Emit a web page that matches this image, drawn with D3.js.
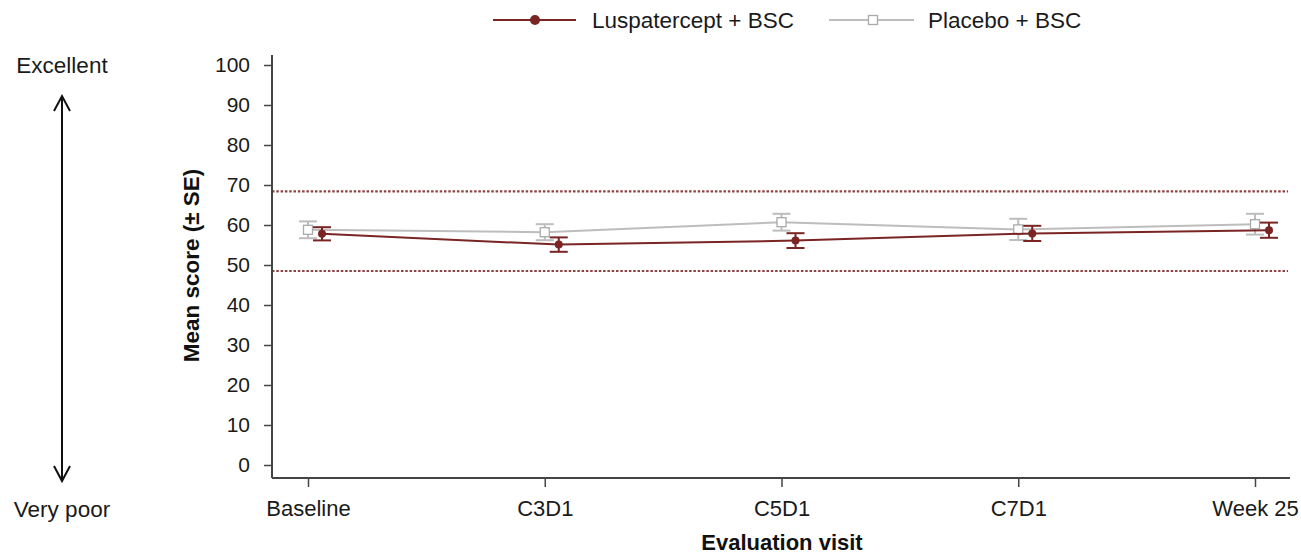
<!DOCTYPE html>
<html><head><meta charset="utf-8">
<script src="https://cdn.jsdelivr.net/npm/d3@7"></script>
<style>body{margin:0;background:#fff}svg{display:block;font-family:"Liberation Sans",Arial,sans-serif}</style>
</head><body><svg id="c" width="1301" height="557"></svg>
<script>
const visits = ["Baseline","C3D1","C5D1","C7D1","Week 25"];
const luspMean = [57.8,55.1,56.1,57.9,58.7];
const luspSE   = [1.65,1.8,1.85,1.9,1.9];
const placMean = [58.8,58.2,60.7,58.9,60.2];
const placSE   = [2.1,2.0,2.1,2.65,2.6];
const refLines = [68.4,48.5];
const yTicks = [0,10,20,30,40,50,60,70,80,90,100];
const seriesNames = ["Luspatercept + BSC","Placebo + BSC"];

const svg = d3.select("#c");
const dark = "#7a2424", gray = "#bdbdbd", axisC = "#444", txt = "#1a1a1a";
const x = d3.scalePoint().domain(visits).range([308,1255]);
const y = d3.scaleLinear().domain([0,100]).range([465,65]);
const X0 = 272, X1 = 1290, YB = 478;

// dotted reference lines
refLines.forEach(v=>{
  svg.append("line").attr("x1",X0).attr("x2",1288).attr("y1",y(v)).attr("y2",y(v))
    .attr("stroke",dark).attr("stroke-width",2.2).attr("stroke-dasharray","2.5,1.8").attr("opacity",0.85);
});

// axes
const yAx = svg.append("g").attr("transform",`translate(${X0},0)`)
  .call(d3.axisLeft(y).tickValues(yTicks).tickSize(8).tickPadding(14));
yAx.select(".domain").attr("d",`M0,${y(100)-10}V${YB}`);
const xAx = svg.append("g").attr("transform",`translate(0,${YB})`)
  .call(d3.axisBottom(x).tickSize(9));
xAx.select(".domain").attr("d",`M${X0},0H${X1}`);
[yAx,xAx].forEach(g=>{
  g.selectAll(".domain").attr("stroke",axisC).attr("stroke-width",2);
  g.selectAll(".tick line").attr("stroke",axisC).attr("stroke-width",1.5);
  g.selectAll("text").attr("fill",txt).attr("font-family","Liberation Sans, Arial, sans-serif");
});
yAx.selectAll("text").attr("font-size",21);
xAx.selectAll("text").attr("font-size",22).attr("y",38).attr("dy","0");

function drawSeries(mean, se, off, color, marker){
  const g = svg.append("g");
  const px = (d,i)=> x(visits[i]) + off;
  g.append("path").datum(mean)
    .attr("d", d3.line().x(px).y(d=>y(d)))
    .attr("fill","none").attr("stroke",color).attr("stroke-width",2);
  mean.forEach((m,i)=>{
    const cx = px(m,i), lo = y(m-se[i]), hi = y(m+se[i]);
    g.append("line").attr("x1",cx).attr("x2",cx).attr("y1",lo).attr("y2",hi).attr("stroke",color).attr("stroke-width",2);
    [lo,hi].forEach(yy=>g.append("line").attr("x1",cx-9).attr("x2",cx+9).attr("y1",yy).attr("y2",yy).attr("stroke",color).attr("stroke-width",2));
    if(marker==="dot") g.append("circle").attr("cx",cx).attr("cy",y(m)).attr("r",4).attr("fill",color);
    else g.append("rect").attr("x",cx-4.5).attr("y",y(m)-4.5).attr("width",9).attr("height",9).attr("fill","#fff").attr("stroke","#aaa").attr("stroke-width",1.3);
  });
}
drawSeries(placMean, placSE, 0, gray, "square");
drawSeries(luspMean, luspSE, 14, dark, "dot");

// legend
const lg = svg.append("g");
lg.append("line").attr("x1",493).attr("x2",576).attr("y1",20).attr("y2",20).attr("stroke",dark).attr("stroke-width",2);
lg.append("circle").attr("cx",535).attr("cy",20).attr("r",5).attr("fill",dark);
lg.append("text").attr("x",592).attr("y",27.5).attr("font-size",22.5).attr("fill",txt).text(seriesNames[0]);
lg.append("line").attr("x1",829).attr("x2",914).attr("y1",20).attr("y2",20).attr("stroke",gray).attr("stroke-width",2);
lg.append("rect").attr("x",868.5).attr("y",15.5).attr("width",9).attr("height",9).attr("fill","#fff").attr("stroke","#aaa").attr("stroke-width",1.3);
lg.append("text").attr("x",928).attr("y",27.5).attr("font-size",22.5).attr("fill",txt).text(seriesNames[1]);

// axis titles
svg.append("text").attr("transform","translate(199,265.5) rotate(-90)").attr("text-anchor","middle")
  .attr("font-size",22.5).attr("font-weight","bold").attr("fill","#111").text("Mean score (± SE)");
svg.append("text").attr("x",782).attr("y",550).attr("text-anchor","middle")
  .attr("font-size",22).attr("font-weight","bold").attr("fill","#111").text("Evaluation visit");

// side arrow and labels
svg.append("text").attr("x",62).attr("y",73).attr("text-anchor","middle").attr("font-size",22.5).attr("fill",txt).text("Excellent");
svg.append("text").attr("x",62).attr("y",517).attr("text-anchor","middle").attr("font-size",22.5).attr("fill",txt).text("Very poor");
svg.append("line").attr("x1",62).attr("x2",62).attr("y1",96).attr("y2",481).attr("stroke","#111").attr("stroke-width",2);
svg.append("path").attr("d","M54,111L62,96L70,111").attr("fill","none").attr("stroke","#111").attr("stroke-width",2);
svg.append("path").attr("d","M54,466L62,481L70,466").attr("fill","none").attr("stroke","#111").attr("stroke-width",2);
</script></body></html>
